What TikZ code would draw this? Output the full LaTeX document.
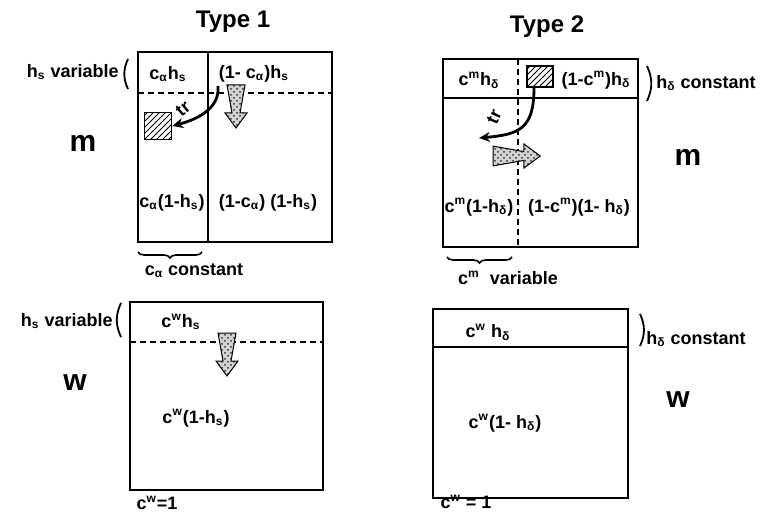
\documentclass[tikz,border=0pt]{standalone}
\usepackage{fontspec}
\setmainfont{Liberation Sans}
\usetikzlibrary{arrows.meta, decorations.pathreplacing, patterns}

\tikzset{
  fatdown/.pic={
    \draw[line width=0.5pt, preaction={fill=gray!35}, pattern=crosshatch dots, pattern color=black!80]
      (-9,0) -- (9,0) -- (4,28) -- (11,28) -- (0,43) -- (-11,28) -- (-4,28) -- cycle;
  }
}

\begin{document}
\begin{tikzpicture}[x=0.5pt, y=-0.5pt,
    box/.style={line width=1pt},
    dashline/.style={line width=1pt, dash pattern=on 3pt off 2pt},
    lbl/.style={font=\fontsize{9}{10}\selectfont\bfseries, inner sep=1pt},
    title/.style={font=\fontsize{12}{14}\selectfont\bfseries},
    big/.style={font=\fontsize{15}{17}\selectfont\bfseries},
    hatchbox/.style={draw, line width=0.8pt, pattern=north east lines, inner sep=0pt},
    trarrow/.style={-{Stealth[length=5.5pt,width=5pt]}, line width=1.4pt},
    paren/.style={line width=0.9pt},
    brace/.style={decorate, decoration={brace, amplitude=3pt}, line width=0.8pt}]
  \useasboundingbox (0,0) rectangle (771,518);

  % Type 1, m
  \node[title] (t1) at (233,22) {Type 1};
  \draw[box] (138,52) rectangle (332,242);
  \draw[box] (208,52) -- (208,242);
  \draw[dashline] (138,93) -- (332,93);
  \node[lbl, anchor=east] (hs1) at (121,72) {h\textsubscript{s} variable};
  \draw[paren] (128,59) to[bend right=25] (128,89);
  \node[big] (m1) at (83,143) {m};
  \node[lbl] (a1) at (168,74) {c\textsubscript{α}h\textsubscript{s}};
  \node[lbl] (b1) at (254,74) {(1- c\textsubscript{α})h\textsubscript{s}};
  \node[lbl] (c1) at (172,203) {c\textsubscript{α}(1-h\textsubscript{s})};
  \node[lbl] (d1) at (268,203) {(1-c\textsubscript{α}) (1-h\textsubscript{s})};
  \draw[brace] (202,252) -- (138,252);
  \node[lbl] (ca1) at (194,271) {c\textsubscript{α} constant};
  \node[hatchbox, minimum size=13.5pt] (sq1) at (158,126) {};
  \coordinate (tr1a) at (218,86);
  \draw[trarrow] (tr1a) to[out=-85, in=15] (sq1.east);
  \node[lbl, rotate=40, inner sep=0pt] (tr1) at (183,109) {tr};
  \pic at (236,85) {fatdown};

  % Type 2, m
  \node[title] (t2) at (547,27) {Type 2};
  \draw[box] (443,59) rectangle (638,247);
  \draw[box] (443,98) -- (638,98);
  \draw[dashline] (518,59) -- (518,247);
  \draw[paren] (647,66) to[bend left=25] (647,101);
  \node[lbl, anchor=west] (hd2) at (654,83) {h\textsubscript{δ} constant};
  \node[big] (m2) at (688,157) {m};
  \node[lbl] (a2) at (479,80) {c\textsuperscript{m}h\textsubscript{δ}};
  \node[lbl] (b2) at (596,80) {(1-c\textsuperscript{m})h\textsubscript{δ}};
  \node[lbl] (c2) at (479,207) {c\textsuperscript{m}(1-h\textsubscript{δ})};
  \node[lbl] (d2) at (579,207) {(1-c\textsuperscript{m})(1- h\textsubscript{δ})};
  \draw[brace] (512,257) -- (447,257);
  \node[lbl] (cm2) at (508,278) {c\textsuperscript{m}\ \ variable};
  \node[hatchbox, minimum width=13pt, minimum height=10.5pt] (sq2) at (540,76.5) {};
  \coordinate (tr2b) at (479,138);
  \draw[trarrow] ([xshift=-3pt]sq2.south) to[out=-90, in=5, looseness=1.4] (tr2b);
  \node[lbl, rotate=65, inner sep=0pt] (tr2) at (494,117) {tr};
  \pic[rotate=90, scale=1.1] at (493,156) {fatdown};

  % Type 1, w
  \draw[box] (130,302) rectangle (323,490);
  \draw[dashline] (130,342) -- (323,342);
  \node[lbl, anchor=east] (hs3) at (115,321) {h\textsubscript{s} variable};
  \draw[paren] (121,303) to[bend right=25] (121,337);
  \node[big] (w3) at (75,383) {w};
  \node[lbl] (a3) at (181,322) {c\textsuperscript{w}h\textsubscript{s}};
  \node[lbl] (c3) at (196,418) {c\textsuperscript{w}(1-h\textsubscript{s})};
  \node[lbl] (cw3) at (157,503) {c\textsuperscript{w}=1};
  \pic at (227,333) {fatdown};

  % Type 2, w
  \draw[box] (433,309) rectangle (628,498);
  \draw[box] (433,347) -- (628,347);
  \draw[paren] (640,314) to[bend left=25] (640,346);
  \node[lbl, anchor=west] (hd4) at (644,339) {h\textsubscript{δ} constant};
  \node[big] (w4) at (678,400) {w};
  \node[lbl] (a4) at (488,332) {c\textsuperscript{w} h\textsubscript{δ}};
  \node[lbl] (c4) at (505,423) {c\textsuperscript{w}(1- h\textsubscript{δ})};
  \node[lbl] (cw4) at (466,502) {c\textsuperscript{w} = 1};
\end{tikzpicture}
\end{document}
